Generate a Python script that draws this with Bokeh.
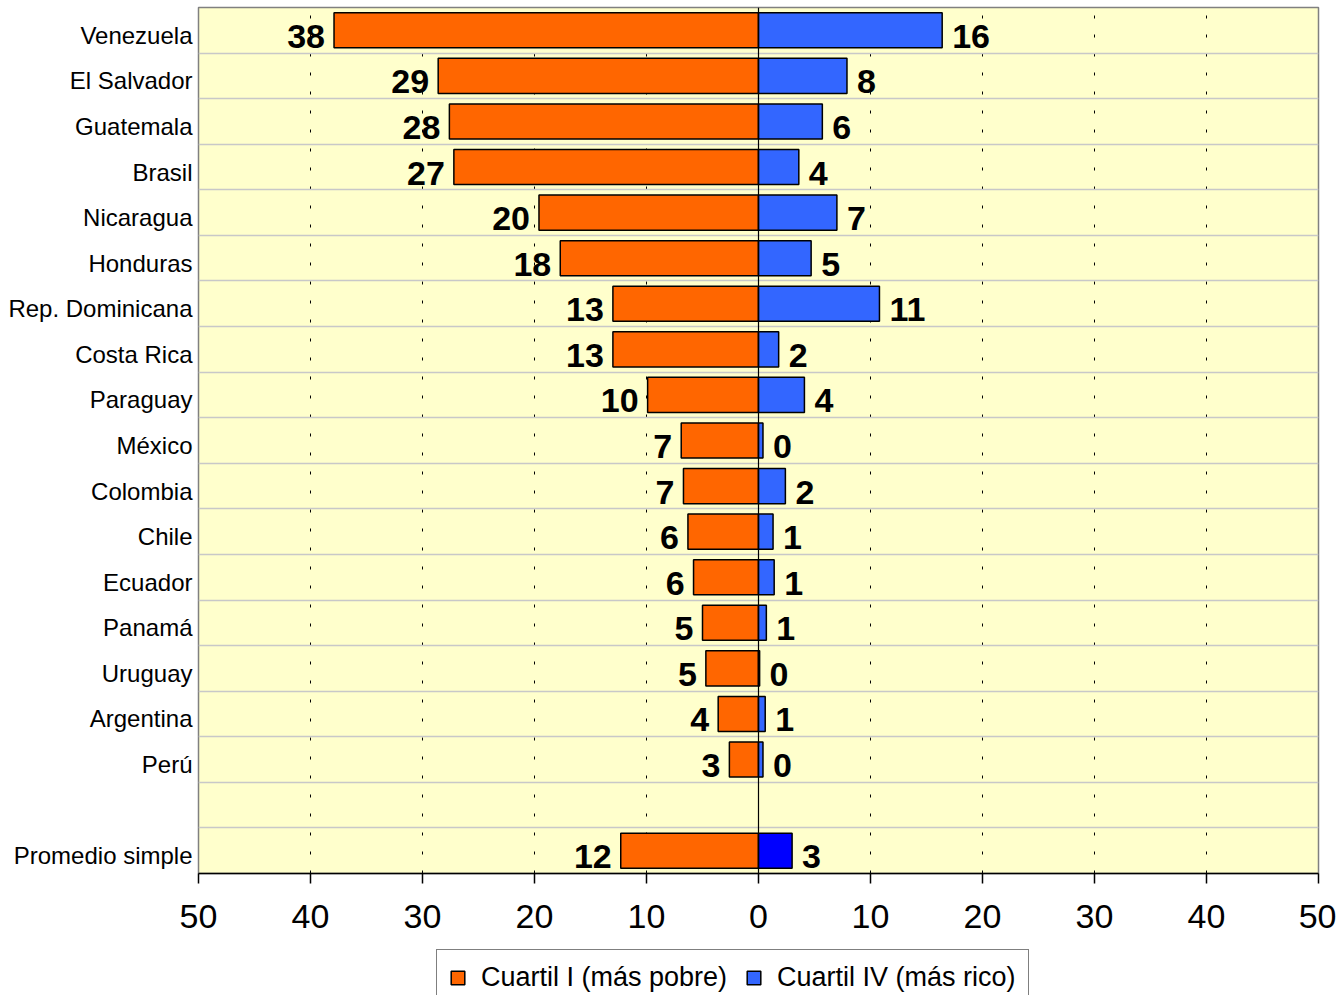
from bokeh.plotting import figure
from bokeh.models import ColumnDataSource, Range1d, FixedTicker, Span, Legend, LegendItem
from bokeh.layouts import column
from bokeh.core.properties import value
from bokeh.embed import file_html
from bokeh.resources import INLINE

categories = ["Venezuela", "El Salvador", "Guatemala", "Brasil", "Nicaragua", "Honduras",
              "Rep. Dominicana", "Costa Rica", "Paraguay", "México", "Colombia", "Chile",
              "Ecuador", "Panamá", "Uruguay", "Argentina", "Perú", "", "Promedio simple"]
q1 = [37.9, 28.6, 27.6, 27.2, 19.6, 17.7, 13.0, 13.0, 9.9, 6.9, 6.7, 6.3, 5.8, 5.0, 4.7,
      3.6, 2.6, None, 12.3]
q4 = [16.4, 7.9, 5.7, 3.6, 7.0, 4.7, 10.8, 1.8, 4.1, 0.4, 2.4, 1.3, 1.4, 0.7, 0.1,
      0.6, 0.4, None, 3.0]
q4_colors = ["#3366FF"] * 17 + [None] + ["#0000FF"]
series_names = ["Cuartil I (más pobre)", "Cuartil IV (más rico)"]
x_ticks = [-50, -40, -30, -20, -10, 0, 10, 20, 30, 40, 50]
x_tick_labels = ["50", "40", "30", "20", "10", "0", "10", "20", "30", "40", "50"]

FONT = "Liberation Sans"
ORANGE = "#FF6600"
BLUE = "#3366FF"
W = 1336
n = len(categories)
ypos = [n - i - 0.5 for i in range(n)]
ylab = [y - 0.11 for y in ypos]   # category labels sit slightly below row centre
rows = [i for i in range(n) if q1[i] is not None]

src = ColumnDataSource(dict(
    y=[ypos[i] for i in rows],
    left=[-q1[i] for i in rows],
    right=[q4[i] for i in rows],
    color=[q4_colors[i] for i in rows],
    l_lbl=[f"{q1[i]:.0f}" for i in rows],
    r_lbl=[f"{q4[i]:.0f}" for i in rows],
))

p = figure(width=W, height=940, output_backend="svg", toolbar_location=None,
           x_range=Range1d(-50, 50), y_range=Range1d(0, n),
           min_border_left=198, min_border_right=W - 1318, min_border_top=7,
           min_border_bottom=67)
p.background_fill_color = "#FFFFCC"
p.border_fill_color = "white"
p.outline_line_color = "#808080"
p.outline_line_width = 1.5

# grids
p.ygrid.ticker = FixedTicker(ticks=list(range(0, n + 1)))
p.ygrid.grid_line_color = "#C8C8C8"
p.ygrid.grid_line_width = 1.5
p.xgrid.ticker = FixedTicker(ticks=x_ticks)
p.xgrid.grid_line_color = "black"
p.xgrid.grid_line_dash = "3 16"
p.xgrid.grid_line_width = 1

# bars
p.hbar(y="y", left="left", right=0, height=0.77, source=src,
       fill_color=ORANGE, line_color="black", line_width=1.5)
p.hbar(y="y", left=0, right="right", height=0.77, source=src,
       fill_color="color", line_color="black", line_width=1.5)

p.add_layout(Span(location=0, dimension="height", line_color="black", line_width=1.2))

# value labels
p.text(x="left", y="y", text="l_lbl", source=src, x_offset=-9, y_offset=6,
       text_align="right", text_baseline="middle", text_font=value(FONT),
       text_font_size="34px", text_font_style="bold", text_color="black")
p.text(x="right", y="y", text="r_lbl", source=src, x_offset=10, y_offset=6,
       text_align="left", text_baseline="middle", text_font=value(FONT),
       text_font_size="34px", text_font_style="bold", text_color="black")

# axes
p.xaxis.ticker = FixedTicker(ticks=x_ticks)
p.xaxis.major_label_overrides = {t: l for t, l in zip(x_ticks, x_tick_labels)}
p.xaxis.major_label_text_font = FONT
p.xaxis.major_label_text_font_size = "34px"
p.xaxis.major_label_text_color = "black"
p.xaxis.major_tick_out = 10
p.xaxis.major_tick_in = 0
p.xaxis.minor_tick_line_color = None
p.xaxis.axis_line_color = "black"
p.xaxis.axis_line_width = 1.5
p.xaxis.major_tick_line_width = 1.5
p.xaxis.major_label_standoff = 21

p.yaxis.ticker = FixedTicker(ticks=ylab)
p.yaxis.major_label_overrides = {y: c for y, c in zip(ylab, categories)}
p.yaxis.major_label_text_font = FONT
p.yaxis.major_label_text_font_size = "24px"
p.yaxis.major_label_text_color = "black"
p.yaxis.axis_line_color = None
p.yaxis.major_tick_line_color = None
p.yaxis.minor_tick_line_color = None
p.yaxis.major_tick_out = 0
p.yaxis.major_label_standoff = 6

# legend strip below the chart (its frame is aligned with the chart frame)
lf = figure(width=W, height=55, output_backend="svg", toolbar_location=None,
            x_range=Range1d(-50, 50), y_range=Range1d(-3, -2),
            min_border=0, min_border_left=198, min_border_right=W - 1318,
            min_border_top=0, min_border_bottom=0)
lf.axis.visible = False
lf.grid.visible = False
lf.outline_line_color = None
lf.background_fill_color = "white"
lr1 = lf.hbar(y="y", left="left", right=0, height=0.77, source=src,
              fill_color=ORANGE, line_color="black", line_width=1.5, visible=False)
lr2 = lf.hbar(y="y", left=0, right="right", height=0.77, source=src,
              fill_color=BLUE, line_color="black", line_width=1.5, visible=False)
legend = Legend(items=[LegendItem(label=series_names[0], renderers=[lr1]),
                       LegendItem(label=series_names[1], renderers=[lr2])],
                orientation="horizontal", location=(238, -11),
                label_text_font=FONT, label_text_font_size="27px",
                label_text_color="black",
                glyph_width=17, glyph_height=17, label_standoff=15, spacing=18,
                padding=12, margin=0, border_line_color="black", border_line_width=1.5,
                background_fill_color="white", background_fill_alpha=1.0,
                inactive_fill_alpha=0.0)
lf.add_layout(legend, "center")

open("out.html", "w").write(file_html(column(p, lf, spacing=0), INLINE))
